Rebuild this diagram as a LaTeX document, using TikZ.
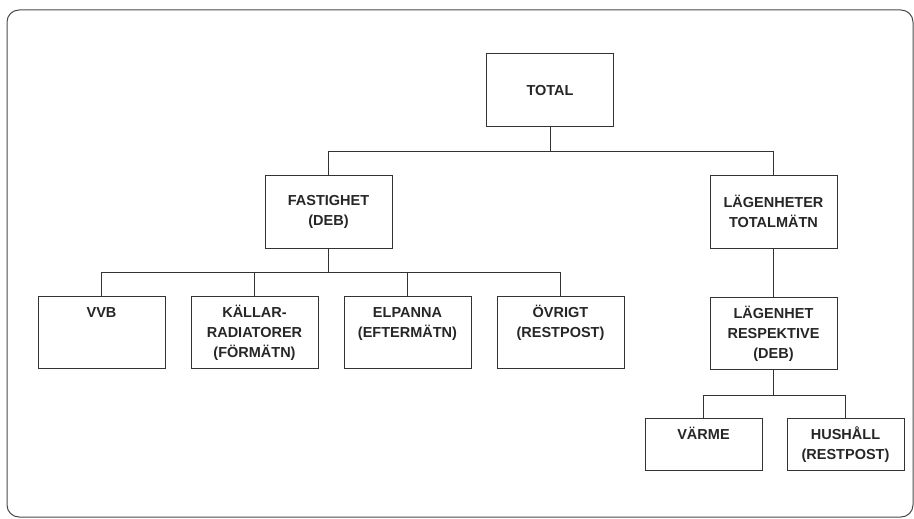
\documentclass[tikz,border=0pt]{standalone}
\usepackage{fontspec}
\setmainfont{Liberation Sans}
\usetikzlibrary{positioning}

\begin{document}
\begin{tikzpicture}[
    x=1pt, y=1pt,
    post/.style   ={rectangle, draw=black!80, line width=1pt, inner sep=0pt,
                    minimum width=127pt, minimum height=73pt, align=center,
                    font=\fontsize{14.5}{20}\selectfont\bfseries, text=black!85},
    delpost/.style={post, minimum height=0pt, text width=127pt,
                    text height=21pt, text depth=51pt},
    liten/.style  ={delpost, minimum width=117pt, text width=117pt, text depth=31pt},
    lank/.style   ={black!80, line width=1pt}
  ]
  \useasboundingbox (0,0) rectangle (914,-519);
  \draw[black!70, line width=1pt, rounded corners=12pt] (7,-10) rectangle (913,-517);

  % --- Nivå 1 och 2 ---
  \node[post] (total)  at (550,-90.5)    {TOTAL};
  \node[post] (fast)   at (328.5,-211.5) {FASTIGHET\\(DEB)};
  \node[post] (lagtot) at (773.5,-211.5) {LÄGENHETER\\TOTALMÄTN};

  % --- Fastighetens poster ---
  \node[delpost] (vvb) at (101.5,-332)            {VVB};
  \node[delpost, right=25pt of vvb]    (kallar)  {KÄLLAR-\\RADIATORER\\(FÖRMÄTN)};
  \node[delpost, right=25pt of kallar] (elpanna) {ELPANNA\\(EFTERMÄTN)};
  \node[delpost, right=25pt of elpanna] (ovrigt) {ÖVRIGT\\(RESTPOST)};

  % --- Lägenheternas poster ---
  \node[delpost, below=48pt of lagtot] (lagresp) {LÄGENHET\\RESPEKTIVE\\(DEB)};
  \node[liten] (varme) at (703.5,-444)           {VÄRME};
  \node[liten, right=24pt of varme]    (hush)    {HUSHÅLL\\(RESTPOST)};

  % --- Förgreningspunkter ---
  \coordinate[below=24pt of total]   (gren1);
  \coordinate[below=24pt of fast]    (gren2);
  \coordinate[below=26pt of lagresp] (gren3);

  % --- Linjer ---
  \draw[lank] (total) -- (gren1);
  \draw[lank] (fast) |- (gren1) -| (lagtot);

  \draw[lank] (fast) -- (gren2);
  \draw[lank] (vvb) |- (gren2) -| (ovrigt);
  \draw[lank] (kallar) -- (kallar |- gren2);
  \draw[lank] (elpanna) -- (elpanna |- gren2);

  \draw[lank] (lagtot) -- (lagresp);
  \draw[lank] (lagresp) -- (gren3);
  \draw[lank] (varme) |- (gren3) -| (hush);
\end{tikzpicture}
\end{document}
